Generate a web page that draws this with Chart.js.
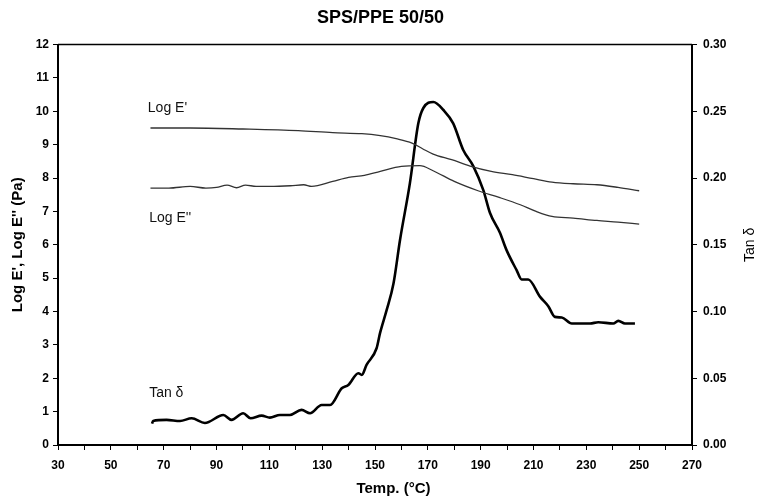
<!DOCTYPE html>
<html>
<head>
<meta charset="utf-8">
<script src="https://cdn.jsdelivr.net/npm/chart.js@4"></script>
<style>
  html, body { margin: 0; padding: 0; background: #fff; }
  #wrap { width: 761px; height: 498px; }
</style>
</head>
<body>
<div id="wrap"><canvas id="dma-chart" width="761" height="498"></canvas></div>
<script>
// data
const logEpTemp = [65, 80, 100, 121, 134, 145, 152, 158, 164, 168, 172, 179, 186, 194, 202, 210, 217, 225, 234, 242, 250];
const logEp = [9.5, 9.5, 9.47, 9.42, 9.36, 9.33, 9.27, 9.18, 9.05, 8.88, 8.72, 8.55, 8.36, 8.2, 8.1, 7.98, 7.88, 7.83, 7.8, 7.72, 7.62];

const logEppTemp = [65, 72, 80, 86, 90, 94, 97.6, 101, 105, 110, 118, 123, 126, 134, 140, 146, 152, 160, 167, 172, 180, 189, 197, 205, 211, 217, 225, 234, 242, 250];
const logEpp = [7.7, 7.7, 7.75, 7.7, 7.72, 7.79, 7.71, 7.79, 7.75, 7.75, 7.77, 7.8, 7.75, 7.9, 8.02, 8.08, 8.2, 8.35, 8.37, 8.22, 7.9, 7.62, 7.42, 7.2, 7.0, 6.85, 6.8, 6.73, 6.68, 6.62];

const tanTemp = [65.6, 66, 71.1, 76.2, 80.6, 85.6, 92.6, 95.7, 100.1, 102.9, 107.1, 110.2, 114, 117.8, 122.2, 125.4, 129.8, 133, 137.4, 139.9, 143.7, 145, 146.8, 150.6, 151.9, 154.4, 157, 159.5, 163.2, 166.4, 168.3, 172.1, 175.9, 179.6, 183.4, 187.2, 191, 193.5, 197.3, 199.8, 203.6, 205.5, 208, 212.5, 215.6, 218.1, 220.7, 224.5, 227.6, 231.4, 234.5, 240.2, 242.1, 244.6, 248.4];
const tanDelta = [0.016, 0.018, 0.0188, 0.018, 0.02, 0.0165, 0.0225, 0.0188, 0.0238, 0.02, 0.022, 0.0205, 0.0225, 0.0225, 0.0263, 0.0238, 0.03, 0.03, 0.0425, 0.045, 0.0538, 0.0525, 0.06, 0.0725, 0.0838, 0.101, 0.121, 0.154, 0.196, 0.241, 0.2525, 0.257, 0.251, 0.241, 0.221, 0.209, 0.191, 0.174, 0.159, 0.146, 0.131, 0.124, 0.124, 0.111, 0.104, 0.096, 0.0955, 0.091, 0.091, 0.091, 0.092, 0.091, 0.093, 0.091, 0.091];

const xTicks = [30, 50, 70, 90, 110, 130, 150, 170, 190, 210, 230, 250, 270];

const toPoints = (xs, ys) => xs.map((x, i) => ({ x: x, y: ys[i] }));

// frame + text labels inside the plot
const framePlugin = {
    id: 'frame',
    afterDraw(chart) {
        const ctx = chart.ctx;
        const a = chart.chartArea;
        const x = chart.scales.x, y = chart.scales.y;
        ctx.save();
        ctx.strokeStyle = '#000';
        ctx.lineWidth = 1.5;
        ctx.beginPath();
        ctx.moveTo(a.left, a.top);
        ctx.lineTo(a.right, a.top);
        ctx.stroke();

        ctx.fillStyle = '#111';
        ctx.font = '14px "Liberation Sans", Arial, sans-serif';
        ctx.textBaseline = 'middle';
        ctx.textAlign = 'left';
        ctx.fillText("Log E'", x.getPixelForValue(64), y.getPixelForValue(10.1));
        ctx.fillText("Log E''", x.getPixelForValue(64.5), y.getPixelForValue(6.8));
        ctx.fillText('Tan \u03b4', x.getPixelForValue(64.5), y.getPixelForValue(1.55));

        // x title
        ctx.font = 'bold 15px "Liberation Sans", Arial, sans-serif';
        ctx.textAlign = 'center';
        ctx.fillStyle = '#000';
        ctx.fillText('Temp. (\u00b0C)', x.getPixelForValue(157), 489);

        // right title, reads bottom to top
        ctx.translate(750, (a.top + a.bottom) / 2);
        ctx.rotate(-Math.PI / 2);
        ctx.font = '14px "Liberation Sans", Arial, sans-serif';
        ctx.fillText('Tan \u03b4', 0, 0);
        ctx.restore();
    }
};

const tickFont = { family: '"Liberation Sans", Arial, sans-serif', size: 12, weight: 'bold' };

new Chart(document.getElementById('dma-chart'), {
    type: 'scatter',
    data: {
        datasets: [
            {
                label: "Log E'",
                data: toPoints(logEpTemp, logEp),
                yAxisID: 'y',
                showLine: true,
                borderColor: '#333',
                borderWidth: 1.3,
                pointRadius: 0,
                cubicInterpolationMode: 'monotone'
            },
            {
                label: "Log E''",
                data: toPoints(logEppTemp, logEpp),
                yAxisID: 'y',
                showLine: true,
                borderColor: '#333',
                borderWidth: 1.3,
                pointRadius: 0,
                cubicInterpolationMode: 'monotone'
            },
            {
                label: 'Tan \u03b4',
                data: toPoints(tanTemp, tanDelta),
                yAxisID: 'y2',
                showLine: true,
                borderColor: '#000',
                borderWidth: 2.6,
                pointRadius: 0,
                cubicInterpolationMode: 'monotone'
            }
        ]
    },
    options: {
        responsive: false,
        animation: false,
        layout: { padding: 0 },
        plugins: {
            legend: { display: false },
            tooltip: { enabled: false },
            title: {
                display: true,
                text: 'SPS/PPE 50/50',
                color: '#000',
                font: { family: '"Liberation Sans", Arial, sans-serif', size: 18, weight: 'bold' },
                padding: { top: 7, bottom: 16 }
            }
        },
        scales: {
            x: {
                type: 'linear',
                min: 30,
                max: 270,
                afterFit: (s) => { s.height = 53; },
                afterBuildTicks: (s) => {
                    const t = [];
                    for (let v = 30; v <= 270; v += 10) t.push({ value: v });
                    s.ticks = t;
                },
                ticks: {
                    color: '#000',
                    font: tickFont,
                    padding: 8,
                    maxRotation: 0,
                    autoSkip: false,
                    callback: (v) => xTicks.includes(v) ? String(v) : ''
                },
                grid: { drawOnChartArea: false, tickLength: 5, color: '#000', lineWidth: 1 },
                border: { color: '#000', width: 2 }
            },
            y: {
                position: 'left',
                min: 0,
                max: 12,
                afterFit: (s) => { s.width = 58; },
                ticks: { stepSize: 1, color: '#000', font: tickFont, padding: 4 },
                grid: { drawOnChartArea: false, tickLength: 5, color: '#000', lineWidth: 1 },
                border: { color: '#000', width: 2 },
                title: {
                    display: true,
                    text: "Log E', Log E'' (Pa)",
                    color: '#000',
                    font: { family: '"Liberation Sans", Arial, sans-serif', size: 15, weight: 'bold' },
                    padding: { top: 9, bottom: 0 }
                }
            },
            y2: {
                position: 'right',
                min: 0,
                max: 0.3,
                afterFit: (s) => { s.width = 69; },
                ticks: {
                    stepSize: 0.05,
                    color: '#000',
                    font: tickFont,
                    padding: 6,
                    callback: (v) => Number(v).toFixed(2)
                },
                grid: { drawOnChartArea: false, tickLength: 5, color: '#000', lineWidth: 1 },
                border: { color: '#000', width: 2 }
            }
        }
    },
    plugins: [framePlugin]
});
</script>
</body>
</html>
